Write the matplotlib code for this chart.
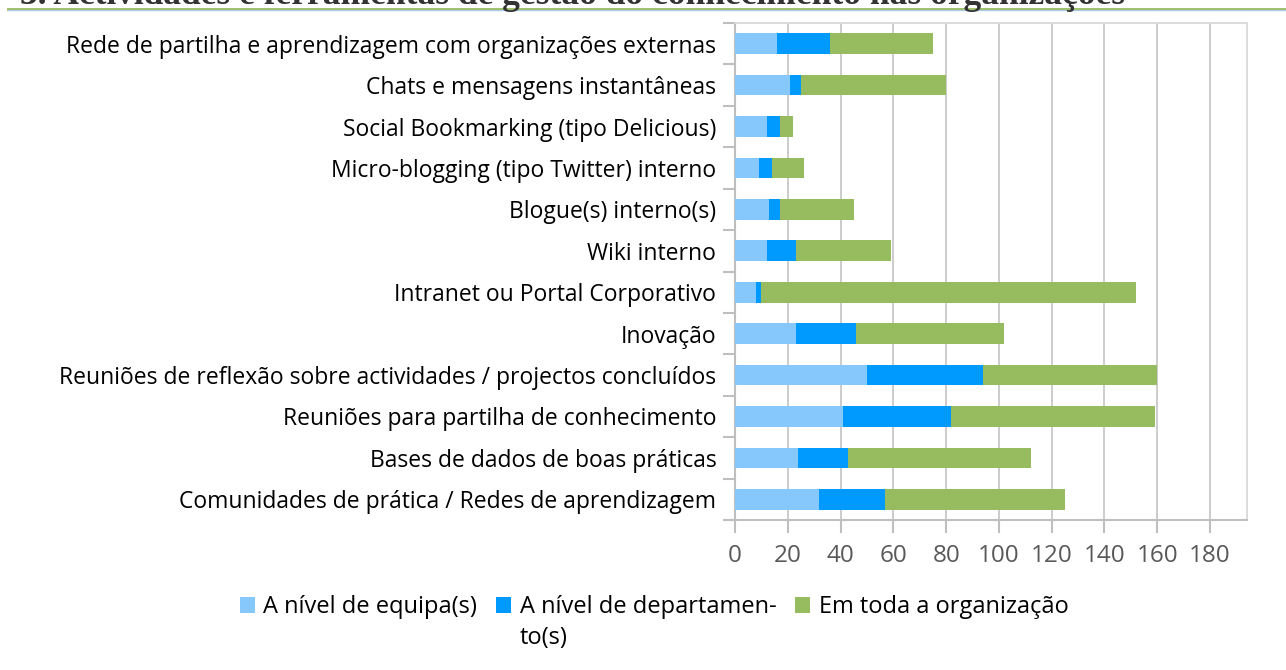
import matplotlib
matplotlib.use("Agg")
import matplotlib.pyplot as plt
from matplotlib.lines import Line2D
from matplotlib.patches import Patch
import numpy as np

categories = [
    "Comunidades de prática / Redes de aprendizagem",
    "Bases de dados de boas práticas",
    "Reuniões para partilha de conhecimento",
    "Reuniões de reflexão sobre actividades / projectos concluídos",
    "Inovação",
    "Intranet ou Portal Corporativo",
    "Wiki interno",
    "Blogue(s) interno(s)",
    "Micro-blogging (tipo Twitter) interno",
    "Social Bookmarking (tipo Delicious)",
    "Chats e mensagens instantâneas",
    "Rede de partilha e aprendizagem com organizações externas",
]
equipa = [32, 24, 41, 50, 23, 8, 12, 13, 9, 12, 21, 16]
departamento = [25, 19, 41, 44, 23, 2, 11, 4, 5, 5, 4, 20]
organizacao = [68, 69, 77, 66, 56, 142, 36, 28, 12, 5, 55, 39]
series_names = ["A nível de equipa(s)", "A nível de departamen-", "Em toda a organização"]
legend_cont = "to(s)"
title = "3. Actividades e ferramentas de gestão do conhecimento nas organizações"
xticks = list(range(0, 181, 20))

colors = ["#86C8FC", "#009AFF", "#96BC5F"]
label_font = "Open Sans"

fig = plt.figure(figsize=(12.86, 6.70), dpi=100)
ax = fig.add_axes([735/1286, 1 - 520/670, (1247-735)/1286, (520-23)/670])

y = np.arange(len(categories))
left = np.zeros(len(categories))
for vals, c, name in zip([equipa, departamento, organizacao], colors, series_names):
    ax.barh(y, vals, left=left, height=0.5, color=c, label=name, zorder=3)
    left = left + np.array(vals)

ax.set_xlim(0, 194)
ax.set_ylim(-0.5, len(categories) - 0.5)
ax.set_xticks(xticks)
ax.set_xticklabels([str(t) for t in xticks], fontsize=17.5, color="#595959", family=label_font)
ax.set_yticks(y)
ax.set_yticklabels(categories, fontsize=16.5, color="#000000", family=label_font)
ax.set_yticks(np.arange(-0.5, len(categories), 1.0), minor=True)
ax.tick_params(axis="y", which="major", length=0, pad=13.5)
ax.tick_params(axis="y", which="minor", length=9, color="#BFBFBF", width=1.5)
ax.tick_params(axis="x", which="major", length=9, color="#BFBFBF", width=1.5, pad=8)
ax.grid(axis="x", color="#C8C8C8", linewidth=1.3, zorder=0)
for s in ["top", "right"]:
    ax.spines[s].set_color("#D9D9D9")
    ax.spines[s].set_linewidth(1.3)
for s in ["left", "bottom"]:
    ax.spines[s].set_color("#BFBFBF")
    ax.spines[s].set_linewidth(1.5)

# Title (partially cut off at top) and rule
fig.text(20/1286, 1 - 3.5/670, title, family="Liberation Serif", fontweight="bold",
         fontsize=25.5, color="#333333", va="baseline", ha="left")
fig.add_artist(Line2D([8/1286, 1], [1 - 8.5/670, 1 - 8.5/670], color="#9BBB59", linewidth=2.0,
                      transform=fig.transFigure))
fig.add_artist(Line2D([8/1286, 1], [1 - 10.3/670, 1 - 10.3/670], color="#A8CCEA", linewidth=1.0,
                      transform=fig.transFigure))

handles = [Patch(facecolor=c, edgecolor="none") for c in colors]
leg = fig.legend(handles, series_names, loc="center", bbox_to_anchor=(654/1286, 1 - 607/670),
                 ncol=3, frameon=False, prop={"family": label_font, "size": 17},
                 handlelength=0.65, handleheight=0.65, handletextpad=0.35, columnspacing=0.8)
fig.canvas.draw()
r = fig.canvas.get_renderer()
t = leg.get_texts()[1]
bb = t.get_window_extent(r)
fig.text(bb.x0 / fig.bbox.width, (bb.y0 - 31) / fig.bbox.height, legend_cont,
         family=label_font, fontsize=17, va="bottom", ha="left")

fig.savefig("out.png", dpi=100)
